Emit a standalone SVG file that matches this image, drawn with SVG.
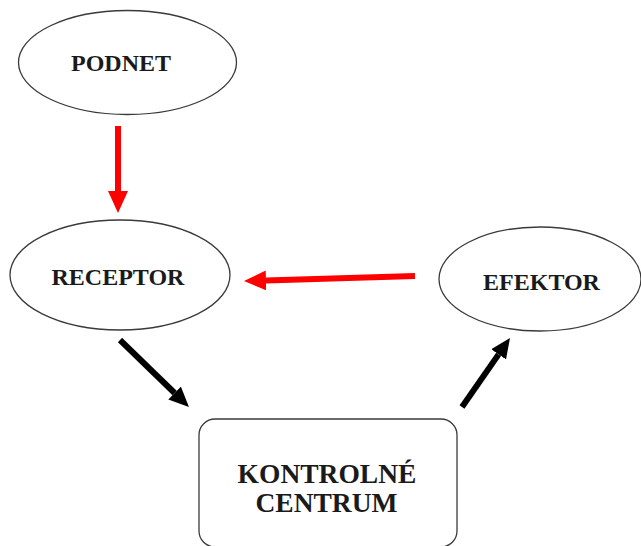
<svg xmlns="http://www.w3.org/2000/svg" width="641" height="546" viewBox="0 0 641 546">
  <style>
    .node { fill: #ffffff; stroke: #3a3a3a; stroke-width: 1.3; }
    .lbl { font-family: "Liberation Serif", "Times New Roman", serif; font-weight: bold; fill: #1a1a1a; text-anchor: middle; }
    .red { stroke: #ff0000; stroke-width: 6; fill: none; }
    .blk { stroke: #000000; stroke-width: 6; fill: none; }
  </style>
  <defs>
    <marker id="redHead" markerUnits="userSpaceOnUse" markerWidth="22" markerHeight="20" refX="0" refY="10" orient="auto">
      <path d="M0,0 L22,10 L0,20 z" fill="#ff0000"/>
    </marker>
    <marker id="blkHead" markerUnits="userSpaceOnUse" markerWidth="20" markerHeight="18" refX="0" refY="9" orient="auto">
      <path d="M0,0 L20,9 L0,18 z" fill="#000000"/>
    </marker>
  </defs>
  <rect x="0" y="0" width="641" height="546" fill="#ffffff"/>

  <g id="podnet">
    <ellipse class="node" cx="127.5" cy="62.5" rx="109" ry="52"/>
    <text class="lbl" x="121" y="71" font-size="24">PODNET</text>
  </g>

  <g id="receptor">
    <ellipse class="node" cx="120" cy="275" rx="110" ry="55"/>
    <text class="lbl" x="118" y="285" font-size="24">RECEPTOR</text>
  </g>

  <g id="efektor">
    <ellipse class="node" cx="540" cy="279" rx="101" ry="52"/>
    <text class="lbl" x="541.5" y="290" font-size="24">EFEKTOR</text>
  </g>

  <g id="kontrolne-centrum">
    <rect class="node" x="199" y="419" width="258" height="128" rx="16" ry="16"/>
    <text class="lbl" x="327" y="483" font-size="27.5">KONTROLNÉ</text>
    <text class="lbl" x="326.5" y="512" font-size="27.5">CENTRUM</text>
  </g>

  <g id="connectors">
    <line class="red" x1="118" y1="126" x2="118" y2="191" marker-end="url(#redHead)"/>
    <line class="red" x1="415" y1="276" x2="266" y2="280.4" marker-end="url(#redHead)"/>
    <line class="blk" x1="120" y1="340" x2="174.6" y2="393" marker-end="url(#blkHead)"/>
    <line class="blk" x1="462" y1="407" x2="498.6" y2="354.4" marker-end="url(#blkHead)"/>
  </g>
</svg>
